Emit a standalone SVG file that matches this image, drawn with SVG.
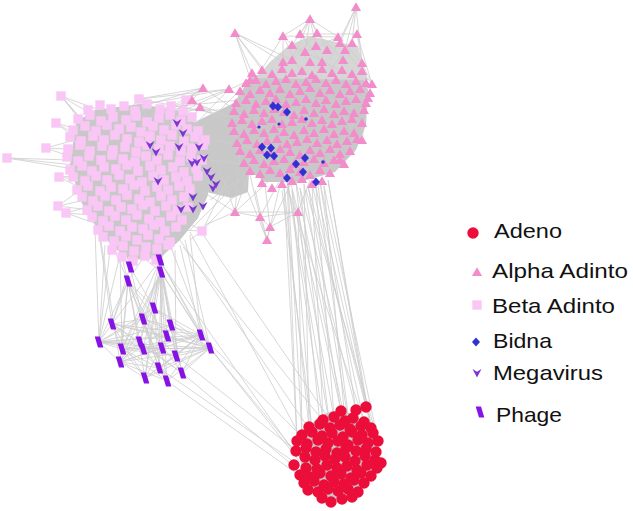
<svg xmlns="http://www.w3.org/2000/svg" width="633" height="511" viewBox="0 0 633 511">
<style>
.e{stroke:#cdcdcd;stroke-width:0.8;fill:none}
.bg{fill:#c8c8c8}
.bg2{fill:#d6d6d6}
.ad{fill:#ec0e3a}
.al{fill:#f28cca}
.be{fill:#f9c6f5}
.bi{fill:#3030d4}
.mg{fill:#7a38d2}
.ph{fill:#8712e6}
.lg{font-family:"Liberation Sans",Arial,sans-serif;font-size:21px;fill:#111}
</style>
<defs>
<circle id="c" r="5.7"/>
<path id="t" d="M0,-4.8L5.1,4H-5.1Z"/>
<rect id="s" x="-4.7" y="-4.7" width="9.4" height="9.4"/>
<path id="d" d="M0,-4.5L4,0L0,4.5L-4,0Z"/>
<path id="v" d="M-4.5,-4L0,-1.2L4.5,-4L0,4.5Z"/>
<path id="p" d="M-4.3,-5.5H1L4.3,5.5H-1Z"/>
</defs>
<rect width="633" height="511" fill="#fff"/>
<g id="connectors">
<polygon class="bg" points="76,122 95,110 140,104 185,112 200,128 208,150 208,195 198,218 180,240 160,258 130,260 112,246 95,225 80,200 70,165"/>
<polygon class="bg" points="195,122 240,100 252,108 248,192 232,198 206,192 198,170"/>
<polygon class="bg" points="250,78 280,66 320,66 360,70 368,90 366,125 356,150 335,172 300,182 265,182 245,168 236,140 236,100"/>
<polygon class="bg2" points="288,46 310,36 345,44 358,46 362,62 368,80 256,78 270,62"/>
<ellipse class="bg" cx="338" cy="455" rx="38" ry="44"/>
<path class="e" d="M99 342L112 324M99 342L122 349M99 342L140 342M99 342L162 348M99 342L120 362M99 342L201 335M99 342L210 348M99 342L154 308M99 342L167 336M112 324L122 349M112 324L140 342M112 324L143 319M112 324L167 336M112 324L201 335M112 324L210 348M112 324L159 368M112 324L145 378M122 349L162 348M122 349L176 356M122 349L210 348M122 349L159 368M122 349L145 378M122 349L167 381M122 349L201 335M120 362L140 342M120 362L162 348M120 362L159 368M120 362L145 378M120 362L167 381M120 362L201 335M120 362L210 348M145 378L167 336M145 378L201 335M145 378L210 348M145 378L154 308M145 378L176 356M167 381L201 335M167 381L210 348M167 381L143 319M167 381L154 308M167 381L140 342M159 368L201 335M159 368L210 348M159 368L143 319M159 368L154 308M182 373L201 335M182 373L210 348M182 373L140 342M182 373L143 319M182 373L112 324M176 356L201 335M176 356L210 348M176 356L143 319M176 356L99 342M143 349L201 335M143 349L210 348M143 319L201 335M143 319L210 348M154 308L201 335M154 308L210 348M171 325L210 348M167 336L210 348M171 325L99 342M171 325L120 362M154 308L120 362M143 319L99 342"/>
<path class="e" d="M99 342L128 281M99 342L105 245M99 342L120 255M112 324L128 281M112 324L100 240M112 324L160 260M122 349L128 281M122 349L160 260M122 349L161 272M120 362L128 281M120 362L161 272M140 342L161 272M140 342L160 260M140 342L128 281M143 349L161 272M162 348L161 272M162 348L128 281M162 348L160 260M176 356L161 272M176 356L160 260M176 356L175 250M210 348L161 272M210 348L160 260M210 348L185 240M210 348L170 245M201 335L161 272M201 335L160 260M201 335L190 235M201 335L180 245M159 368L128 281M159 368L161 272M182 373L161 272M182 373L160 260M145 378L128 281M145 378L161 272M167 381L161 272M167 381L128 281M167 336L128 281M167 336L160 260M171 325L128 281M143 319L161 272M154 308L160 260M154 308L130 267M143 319L130 267M112 324L130 267M99 342L95 230M99 342L110 250M122 349L120 250M120 362L100 235M160 260L150 250M160 260L170 245M161 272L160 250M130 267L125 250M128 281L110 240M128 281L120 250M128 281L145 255M161 272L140 255"/>
<path class="e" d="M210 348L298 455M210 348L300 462M182 373L296 468M167 381L300 476M176 356L295 450M201 335L305 440M159 368L300 466M183 247L320 417M180 240L310 430M190 232L302 440M200 230L330 420M160 262L296 455"/>
<path class="e" d="M284 186L297 441M284 186L309 427M288 184L302 435M288 184L323 420M292 190L312 432M292 190L334 417M296 182L320 424M296 182L345 421M300 188L330 428M300 188L356 410M304 184L341 411M304 184L309 427M308 186L350 429M308 186L366 407M312 183L364 422M312 183L323 420M316 188L371 428M316 188L334 417M320 182L373 433M320 182L356 410M324 186L378 441M324 186L345 421M328 180L366 407M328 180L371 428M298 212L341 411M298 212L302 435M287 178L330 428M287 178L297 441M290 195L364 422M306 190L378 441M282 190L312 432M318 185L350 429"/>
<path class="e" d="M235 212L260 217M235 212L250 170M235 212L240 150M235 212L270 180M235 212L220 170M260 217L270 227M260 217L267 240M270 227L267 240M260 217L280 180M260 217L250 175M270 227L290 185M270 227L265 185M267 240L280 185M267 240L245 185M267 240L255 190M298 212L290 180M298 212L310 180M298 212L270 227M298 212L260 217M235 212L298 212M235 212L205 225M235 212L200 190"/>
<path class="e" d="M61 96L90 130M61 96L100 140M61 96L80 120M61 96L110 125M61 96L102 111M102 111L120 130M56 123L85 140M56 123L90 150M56 123L80 130M46 148L80 160M46 148L85 150M46 148L75 140M7 158L75 165M7 158L80 170M7 158L70 160M59 177L80 180M59 177L90 175M59 177L85 190M58 206L85 200M58 206L90 210M58 206L80 190M66 213L90 215M66 213L95 205M66 213L100 225M139 99L130 130M139 99L150 125M139 99L120 120M186 100L170 125M186 100L160 130M202 231L180 230M202 231L175 215M202 231L190 240M202 231L240 190M202 231L230 175"/>
<path class="e" d="M203 88L150 120M203 88L170 125M203 88L130 110M229 89L160 115M229 89L190 130M229 89L140 105M192 100L120 125M192 100L150 135M200 107L175 140M200 107L140 130M250 80L200 130M250 80L185 110M203 88L250 120M229 89L260 110M192 100L240 130M200 107L250 140M250 80L270 100M139 99L203 88M139 99L229 89M139 99L250 120M120 110L230 110M160 108L240 100M186 100L240 120M186 100L203 88M190 230L240 180M210 200L245 175M215 140L260 150M210 160L250 165"/>
<path class="e" d="M356 7L340 43M356 7L345 50M356 7L352 43M356 7L362 63M356 7L330 60M310 19L283 36M310 19L300 34M310 19L317 33M310 19L338 37M310 19L292 45M310 19L305 52M310 19L327 50M310 19L316 46M310 19L292 60M235 33L252 73M235 33L262 70M235 33L272 80M235 33L250 78M235 33L283 62M235 33L292 60M283 36L338 37M300 34L357 34M283 36L283 62M357 34L362 63M357 34L372 84M362 63L372 84M372 84L368 98M368 98L362 140M362 140L340 160M368 98L350 130M372 84L350 110M283 36L310 62M300 34L322 62M317 33L343 60M338 37L362 63M283 36L260 72M357 34L330 70M283 36L300 70M292 45L340 70M317 33L292 60M338 37L305 52M345 50L372 84M362 140L345 120M340 160L320 140M368 98L340 95"/>
</g>
<g id="beta-adinto" class="be">
<use href="#s" x="61" y="96"/><use href="#s" x="56" y="123"/><use href="#s" x="46" y="148"/><use href="#s" x="7" y="158"/><use href="#s" x="59" y="177"/><use href="#s" x="58" y="206"/><use href="#s" x="66" y="213"/><use href="#s" x="139" y="99"/><use href="#s" x="186" y="100"/><use href="#s" x="202" y="231"/>
<use href="#s" x="88" y="110"/><use href="#s" x="100" y="105"/><use href="#s" x="111" y="109"/><use href="#s" x="124" y="106"/><use href="#s" x="135" y="111"/><use href="#s" x="147" y="104"/><use href="#s" x="160" y="109"/><use href="#s" x="171" y="106"/><use href="#s" x="183" y="111"/>
<use href="#s" x="78" y="119"/><use href="#s" x="90" y="115"/><use href="#s" x="101" y="121"/><use href="#s" x="113" y="117"/><use href="#s" x="126" y="120"/><use href="#s" x="136" y="116"/><use href="#s" x="147" y="122"/><use href="#s" x="159" y="118"/><use href="#s" x="170" y="115"/><use href="#s" x="181" y="121"/><use href="#s" x="192" y="117"/>
<use href="#s" x="73" y="130"/><use href="#s" x="85" y="126"/><use href="#s" x="96" y="131"/><use href="#s" x="107" y="125"/><use href="#s" x="119" y="129"/><use href="#s" x="131" y="127"/><use href="#s" x="141" y="132"/><use href="#s" x="153" y="126"/><use href="#s" x="164" y="130"/><use href="#s" x="176" y="125"/><use href="#s" x="187" y="129"/><use href="#s" x="198" y="131"/>
<use href="#s" x="70" y="137"/><use href="#s" x="81" y="141"/><use href="#s" x="93" y="136"/><use href="#s" x="104" y="140"/><use href="#s" x="115" y="135"/><use href="#s" x="127" y="139"/><use href="#s" x="139" y="142"/><use href="#s" x="150" y="136"/><use href="#s" x="161" y="140"/><use href="#s" x="172" y="135"/><use href="#s" x="184" y="141"/><use href="#s" x="195" y="137"/><use href="#s" x="205" y="140"/>
<use href="#s" x="68" y="149"/><use href="#s" x="80" y="145"/><use href="#s" x="90" y="151"/><use href="#s" x="102" y="146"/><use href="#s" x="113" y="150"/><use href="#s" x="125" y="147"/><use href="#s" x="136" y="152"/><use href="#s" x="147" y="145"/><use href="#s" x="159" y="149"/><use href="#s" x="170" y="146"/><use href="#s" x="181" y="151"/><use href="#s" x="192" y="148"/><use href="#s" x="203" y="145"/>
<use href="#s" x="67" y="157"/><use href="#s" x="78" y="161"/><use href="#s" x="89" y="156"/><use href="#s" x="101" y="160"/><use href="#s" x="112" y="155"/><use href="#s" x="123" y="159"/><use href="#s" x="135" y="162"/><use href="#s" x="146" y="156"/><use href="#s" x="157" y="160"/><use href="#s" x="168" y="155"/><use href="#s" x="180" y="161"/><use href="#s" x="191" y="157"/><use href="#s" x="202" y="160"/>
<use href="#s" x="70" y="170"/><use href="#s" x="82" y="166"/><use href="#s" x="92" y="171"/><use href="#s" x="104" y="167"/><use href="#s" x="116" y="169"/><use href="#s" x="127" y="165"/><use href="#s" x="138" y="171"/><use href="#s" x="150" y="166"/><use href="#s" x="161" y="170"/><use href="#s" x="173" y="167"/><use href="#s" x="184" y="172"/><use href="#s" x="196" y="168"/>
<use href="#s" x="73" y="177"/><use href="#s" x="85" y="181"/><use href="#s" x="96" y="176"/><use href="#s" x="107" y="180"/><use href="#s" x="119" y="175"/><use href="#s" x="130" y="179"/><use href="#s" x="142" y="182"/><use href="#s" x="153" y="176"/><use href="#s" x="164" y="180"/><use href="#s" x="176" y="177"/><use href="#s" x="187" y="181"/><use href="#s" x="198" y="176"/>
<use href="#s" x="77" y="190"/><use href="#s" x="88" y="186"/><use href="#s" x="100" y="191"/><use href="#s" x="111" y="187"/><use href="#s" x="123" y="189"/><use href="#s" x="134" y="185"/><use href="#s" x="145" y="191"/><use href="#s" x="157" y="187"/><use href="#s" x="168" y="190"/><use href="#s" x="179" y="186"/><use href="#s" x="190" y="189"/>
<use href="#s" x="82" y="197"/><use href="#s" x="93" y="201"/><use href="#s" x="105" y="196"/><use href="#s" x="116" y="200"/><use href="#s" x="127" y="195"/><use href="#s" x="139" y="199"/><use href="#s" x="150" y="202"/><use href="#s" x="161" y="196"/><use href="#s" x="172" y="200"/><use href="#s" x="184" y="197"/>
<use href="#s" x="87" y="210"/><use href="#s" x="98" y="206"/><use href="#s" x="109" y="211"/><use href="#s" x="121" y="207"/><use href="#s" x="132" y="209"/><use href="#s" x="143" y="205"/><use href="#s" x="155" y="211"/><use href="#s" x="166" y="206"/><use href="#s" x="177" y="210"/><use href="#s" x="188" y="207"/>
<use href="#s" x="92" y="217"/><use href="#s" x="103" y="221"/><use href="#s" x="115" y="216"/><use href="#s" x="126" y="220"/><use href="#s" x="137" y="215"/><use href="#s" x="149" y="219"/><use href="#s" x="160" y="222"/><use href="#s" x="171" y="216"/><use href="#s" x="182" y="220"/>
<use href="#s" x="98" y="230"/><use href="#s" x="109" y="226"/><use href="#s" x="120" y="231"/><use href="#s" x="132" y="227"/><use href="#s" x="143" y="229"/><use href="#s" x="154" y="225"/><use href="#s" x="165" y="231"/><use href="#s" x="176" y="227"/>
<use href="#s" x="103" y="237"/><use href="#s" x="114" y="241"/><use href="#s" x="126" y="236"/><use href="#s" x="137" y="240"/><use href="#s" x="148" y="235"/><use href="#s" x="159" y="239"/><use href="#s" x="170" y="242"/>
<use href="#s" x="112" y="250"/><use href="#s" x="123" y="246"/><use href="#s" x="134" y="251"/><use href="#s" x="146" y="247"/><use href="#s" x="157" y="249"/><use href="#s" x="168" y="245"/>
<use href="#s" x="122" y="257"/><use href="#s" x="133" y="261"/><use href="#s" x="145" y="256"/><use href="#s" x="156" y="260"/>
</g>
<g id="phage" class="ph">
<use href="#p" x="160" y="260"/><use href="#p" x="130" y="267"/><use href="#p" x="161" y="272"/><use href="#p" x="128" y="281"/><use href="#p" x="154" y="308"/><use href="#p" x="143" y="319"/><use href="#p" x="112" y="324"/><use href="#p" x="171" y="325"/><use href="#p" x="167" y="336"/><use href="#p" x="201" y="335"/><use href="#p" x="99" y="342"/><use href="#p" x="122" y="349"/><use href="#p" x="140" y="342"/><use href="#p" x="143" y="349"/><use href="#p" x="162" y="348"/><use href="#p" x="176" y="356"/><use href="#p" x="210" y="348"/><use href="#p" x="120" y="362"/><use href="#p" x="159" y="368"/><use href="#p" x="182" y="373"/><use href="#p" x="145" y="378"/><use href="#p" x="167" y="381"/>
</g>
<g id="megavirus" class="mg">
<use href="#v" x="177" y="123"/><use href="#v" x="183" y="133"/><use href="#v" x="150" y="145"/><use href="#v" x="156" y="152"/><use href="#v" x="179" y="147"/><use href="#v" x="199" y="147"/><use href="#v" x="204" y="158"/><use href="#v" x="192" y="163"/><use href="#v" x="197" y="162"/><use href="#v" x="207" y="171"/><use href="#v" x="211" y="177"/><use href="#v" x="216" y="184"/><use href="#v" x="213" y="188"/><use href="#v" x="158" y="181"/><use href="#v" x="193" y="197"/><use href="#v" x="203" y="206"/><use href="#v" x="193" y="209"/><use href="#v" x="181" y="209"/>
</g>
<g id="alpha-adinto" class="al">
<use href="#t" x="356" y="7"/><use href="#t" x="310" y="19"/><use href="#t" x="235" y="33"/><use href="#t" x="283" y="36"/><use href="#t" x="300" y="34"/><use href="#t" x="317" y="33"/><use href="#t" x="338" y="37"/><use href="#t" x="357" y="34"/><use href="#t" x="292" y="45"/><use href="#t" x="316" y="46"/><use href="#t" x="340" y="43"/><use href="#t" x="352" y="43"/><use href="#t" x="305" y="52"/><use href="#t" x="327" y="50"/><use href="#t" x="345" y="50"/><use href="#t" x="292" y="60"/><use href="#t" x="322" y="62"/><use href="#t" x="343" y="60"/><use href="#t" x="362" y="63"/><use href="#t" x="283" y="62"/><use href="#t" x="310" y="62"/><use href="#t" x="372" y="84"/><use href="#t" x="368" y="98"/><use href="#t" x="362" y="140"/><use href="#t" x="340" y="160"/><use href="#t" x="203" y="88"/><use href="#t" x="229" y="89"/><use href="#t" x="192" y="100"/><use href="#t" x="200" y="107"/><use href="#t" x="250" y="80"/><use href="#t" x="235" y="212"/><use href="#t" x="260" y="217"/><use href="#t" x="270" y="227"/><use href="#t" x="267" y="240"/><use href="#t" x="298" y="212"/><use href="#t" x="272" y="188"/>
<use href="#t" x="252" y="73"/><use href="#t" x="262" y="70"/><use href="#t" x="272" y="74"/><use href="#t" x="282" y="69"/><use href="#t" x="292" y="73"/><use href="#t" x="302" y="71"/><use href="#t" x="312" y="75"/><use href="#t" x="322" y="69"/><use href="#t" x="332" y="73"/><use href="#t" x="342" y="70"/><use href="#t" x="352" y="74"/><use href="#t" x="362" y="71"/>
<use href="#t" x="246" y="83"/><use href="#t" x="256" y="80"/><use href="#t" x="266" y="84"/><use href="#t" x="276" y="81"/><use href="#t" x="286" y="79"/><use href="#t" x="296" y="84"/><use href="#t" x="306" y="82"/><use href="#t" x="316" y="79"/><use href="#t" x="326" y="83"/><use href="#t" x="336" y="80"/><use href="#t" x="346" y="84"/><use href="#t" x="356" y="81"/><use href="#t" x="366" y="83"/>
<use href="#t" x="240" y="91"/><use href="#t" x="250" y="94"/><use href="#t" x="260" y="90"/><use href="#t" x="270" y="93"/><use href="#t" x="280" y="89"/><use href="#t" x="290" y="94"/><use href="#t" x="300" y="91"/><use href="#t" x="310" y="88"/><use href="#t" x="320" y="93"/><use href="#t" x="330" y="90"/><use href="#t" x="340" y="94"/><use href="#t" x="350" y="91"/><use href="#t" x="360" y="89"/><use href="#t" x="370" y="93"/>
<use href="#t" x="236" y="103"/><use href="#t" x="246" y="100"/><use href="#t" x="256" y="104"/><use href="#t" x="266" y="101"/><use href="#t" x="276" y="99"/><use href="#t" x="286" y="104"/><use href="#t" x="296" y="102"/><use href="#t" x="306" y="99"/><use href="#t" x="316" y="103"/><use href="#t" x="326" y="100"/><use href="#t" x="336" y="104"/><use href="#t" x="346" y="101"/><use href="#t" x="356" y="99"/><use href="#t" x="366" y="103"/>
<use href="#t" x="234" y="111"/><use href="#t" x="244" y="114"/><use href="#t" x="254" y="110"/><use href="#t" x="264" y="113"/><use href="#t" x="274" y="109"/><use href="#t" x="284" y="112"/><use href="#t" x="294" y="115"/><use href="#t" x="304" y="110"/><use href="#t" x="314" y="113"/><use href="#t" x="324" y="109"/><use href="#t" x="334" y="114"/><use href="#t" x="344" y="111"/><use href="#t" x="354" y="113"/><use href="#t" x="364" y="110"/>
<use href="#t" x="232" y="123"/><use href="#t" x="242" y="120"/><use href="#t" x="252" y="124"/><use href="#t" x="262" y="121"/><use href="#t" x="272" y="119"/><use href="#t" x="282" y="124"/><use href="#t" x="292" y="122"/><use href="#t" x="302" y="119"/><use href="#t" x="312" y="123"/><use href="#t" x="322" y="120"/><use href="#t" x="332" y="124"/><use href="#t" x="342" y="121"/><use href="#t" x="352" y="119"/><use href="#t" x="362" y="123"/>
<use href="#t" x="234" y="131"/><use href="#t" x="244" y="134"/><use href="#t" x="254" y="130"/><use href="#t" x="264" y="133"/><use href="#t" x="274" y="129"/><use href="#t" x="284" y="132"/><use href="#t" x="294" y="135"/><use href="#t" x="304" y="130"/><use href="#t" x="314" y="133"/><use href="#t" x="324" y="129"/><use href="#t" x="334" y="134"/><use href="#t" x="344" y="131"/><use href="#t" x="354" y="133"/>
<use href="#t" x="237" y="143"/><use href="#t" x="247" y="140"/><use href="#t" x="257" y="144"/><use href="#t" x="267" y="141"/><use href="#t" x="277" y="139"/><use href="#t" x="287" y="144"/><use href="#t" x="297" y="142"/><use href="#t" x="307" y="139"/><use href="#t" x="317" y="143"/><use href="#t" x="327" y="140"/><use href="#t" x="337" y="144"/><use href="#t" x="347" y="141"/><use href="#t" x="357" y="139"/>
<use href="#t" x="240" y="151"/><use href="#t" x="250" y="154"/><use href="#t" x="260" y="150"/><use href="#t" x="270" y="153"/><use href="#t" x="280" y="149"/><use href="#t" x="290" y="152"/><use href="#t" x="300" y="155"/><use href="#t" x="310" y="150"/><use href="#t" x="320" y="153"/><use href="#t" x="330" y="149"/><use href="#t" x="340" y="154"/><use href="#t" x="350" y="151"/>
<use href="#t" x="244" y="163"/><use href="#t" x="254" y="160"/><use href="#t" x="264" y="164"/><use href="#t" x="274" y="161"/><use href="#t" x="284" y="159"/><use href="#t" x="294" y="164"/><use href="#t" x="304" y="162"/><use href="#t" x="314" y="159"/><use href="#t" x="324" y="163"/><use href="#t" x="334" y="160"/><use href="#t" x="344" y="164"/>
<use href="#t" x="250" y="171"/><use href="#t" x="260" y="174"/><use href="#t" x="270" y="170"/><use href="#t" x="280" y="173"/><use href="#t" x="290" y="169"/><use href="#t" x="300" y="172"/><use href="#t" x="310" y="175"/><use href="#t" x="320" y="170"/><use href="#t" x="330" y="173"/>
<use href="#t" x="262" y="183"/><use href="#t" x="282" y="184"/><use href="#t" x="292" y="181"/><use href="#t" x="302" y="179"/><use href="#t" x="312" y="184"/><use href="#t" x="322" y="181"/>
</g>
<g id="bidna" class="bi">
<use href="#d" x="273" y="106"/><use href="#d" x="278" y="107"/><use href="#d" x="287" y="112"/><use href="#d" x="262" y="147"/><use href="#d" x="271" y="148"/><use href="#d" x="267" y="155"/><use href="#d" x="274" y="156"/><use href="#d" x="305" y="158"/><use href="#d" x="296" y="164"/><use href="#d" x="303" y="172"/><use href="#d" x="287" y="178"/><use href="#d" x="316" y="182"/>
<circle cx="306" cy="119" r="1.8"/><circle cx="323" cy="162" r="1.8"/><circle cx="259" cy="127" r="1.6"/><circle cx="279" cy="124" r="1.6"/>
</g>
<g id="adeno" class="ad">
<use href="#c" x="341" y="411"/><use href="#c" x="356" y="410"/><use href="#c" x="366" y="407"/>
<use href="#c" x="323" y="420"/><use href="#c" x="334" y="417"/><use href="#c" x="345" y="421"/><use href="#c" x="353" y="418"/><use href="#c" x="364" y="422"/>
<use href="#c" x="309" y="427"/><use href="#c" x="320" y="424"/><use href="#c" x="330" y="428"/><use href="#c" x="340" y="425"/><use href="#c" x="350" y="429"/><use href="#c" x="361" y="426"/><use href="#c" x="371" y="428"/>
<use href="#c" x="302" y="435"/><use href="#c" x="312" y="432"/><use href="#c" x="322" y="436"/><use href="#c" x="332" y="433"/><use href="#c" x="343" y="437"/><use href="#c" x="352" y="432"/><use href="#c" x="362" y="435"/><use href="#c" x="373" y="433"/>
<use href="#c" x="297" y="441"/><use href="#c" x="307" y="444"/><use href="#c" x="318" y="440"/><use href="#c" x="328" y="443"/><use href="#c" x="338" y="441"/><use href="#c" x="348" y="445"/><use href="#c" x="358" y="440"/><use href="#c" x="368" y="443"/><use href="#c" x="378" y="441"/>
<use href="#c" x="296" y="451"/><use href="#c" x="306" y="448"/><use href="#c" x="316" y="452"/><use href="#c" x="326" y="449"/><use href="#c" x="337" y="453"/><use href="#c" x="346" y="448"/><use href="#c" x="356" y="451"/><use href="#c" x="366" y="449"/><use href="#c" x="376" y="452"/>
<use href="#c" x="294" y="465"/><use href="#c" x="305" y="457"/><use href="#c" x="315" y="460"/><use href="#c" x="325" y="456"/><use href="#c" x="335" y="459"/><use href="#c" x="345" y="457"/><use href="#c" x="355" y="461"/><use href="#c" x="365" y="456"/><use href="#c" x="375" y="460"/><use href="#c" x="381" y="463"/>
<use href="#c" x="306" y="468"/><use href="#c" x="317" y="469"/><use href="#c" x="327" y="465"/><use href="#c" x="337" y="468"/><use href="#c" x="347" y="466"/><use href="#c" x="357" y="470"/><use href="#c" x="367" y="465"/><use href="#c" x="377" y="468"/>
<use href="#c" x="300" y="475"/><use href="#c" x="310" y="477"/><use href="#c" x="320" y="473"/><use href="#c" x="331" y="476"/><use href="#c" x="341" y="474"/><use href="#c" x="351" y="478"/><use href="#c" x="361" y="473"/><use href="#c" x="371" y="476"/>
<use href="#c" x="304" y="483"/><use href="#c" x="314" y="481"/><use href="#c" x="324" y="485"/><use href="#c" x="334" y="482"/><use href="#c" x="344" y="484"/><use href="#c" x="354" y="480"/><use href="#c" x="364" y="483"/>
<use href="#c" x="308" y="490"/><use href="#c" x="318" y="492"/><use href="#c" x="328" y="489"/><use href="#c" x="338" y="491"/><use href="#c" x="348" y="489"/><use href="#c" x="358" y="492"/>
<use href="#c" x="322" y="498"/><use href="#c" x="331" y="502"/><use href="#c" x="342" y="499"/><use href="#c" x="352" y="497"/>
</g>
<g id="legend">
<g id="legend-adeno"><use href="#c" class="ad" x="473" y="233"/><text class="lg" x="494" y="238" textLength="68" lengthAdjust="spacingAndGlyphs">Adeno</text></g>
<g id="legend-alpha"><use href="#t" class="al" x="477" y="272"/><text class="lg" x="492" y="278" textLength="136" lengthAdjust="spacingAndGlyphs">Alpha Adinto</text></g>
<g id="legend-beta"><use href="#s" class="be" x="477" y="305"/><text class="lg" x="492" y="313" textLength="123" lengthAdjust="spacingAndGlyphs">Beta Adinto</text></g>
<g id="legend-bidna"><use href="#d" class="bi" x="476" y="342"/><text class="lg" x="493" y="348" textLength="59" lengthAdjust="spacingAndGlyphs">Bidna</text></g>
<g id="legend-megavirus"><use href="#v" class="mg" x="477" y="373"/><text class="lg" x="493" y="380" textLength="110" lengthAdjust="spacingAndGlyphs">Megavirus</text></g>
<g id="legend-phage"><use href="#p" class="ph" x="480" y="412"/><text class="lg" x="496" y="422" textLength="66" lengthAdjust="spacingAndGlyphs">Phage</text></g>
</g>
</svg>
